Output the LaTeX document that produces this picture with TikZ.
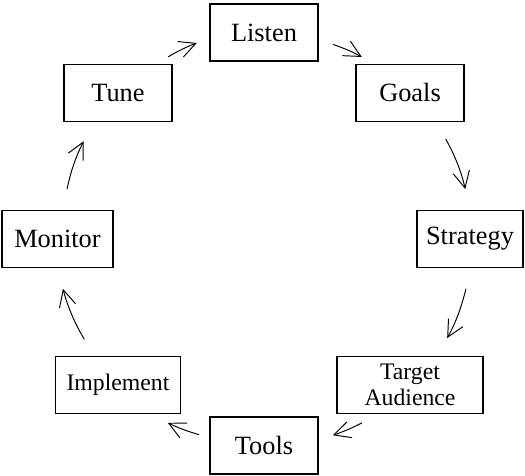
\documentclass[tikz,border=0pt]{standalone}
\usepackage{fontspec}
\setmainfont{Liberation Serif}
\usetikzlibrary{positioning, arrows.meta}

\begin{document}
\begin{tikzpicture}[
    stage/.style={draw, line width=1.1pt, minimum width=2.16cm, minimum height=1.14cm,
      inner sep=1pt, font=\fontsize{15}{18}\selectfont},
    smallstage/.style={stage, align=center, font=\fontsize{13.5}{14.6}\selectfont},
    flow/.style={-{Straight Barb[length=3.3mm,width=3.3mm]}, line width=0.55pt},
  ]

        \useasboundingbox (-5.28,-4.74) rectangle (5.22,4.78);

        % Stages around the loop
        \node[stage] (listen) at (90:4.13) {Listen};
        \node[stage] (goals) at (45:4.13) {Goals};
        \node[stage, minimum width=2.12cm] (strategy) at (0:4.12) {Strategy};
        \node[smallstage, minimum width=2.92cm] (target) at (-45:4.13) {Target\\Audience};
        \node[stage] (tools) at (-90:4.13) {Tools};
        \node[smallstage, minimum width=2.5cm] (implement) at (-135:4.13) {Implement};
        \node[stage, minimum width=2.22cm] (monitor) at (180:4.13) {Monitor};
        \node[stage] (tune) at (135:4.13) {Tune};

        % Arrows (clockwise), short arcs between the boxes
        \draw[flow, shorten <=3mm, shorten >=2.7mm]
            (listen.-7) to[out=-20, in=151, out distance=5.3mm, in distance=5mm] (goals.141);
        \draw[flow, shorten <=3.8mm, shorten >=4.2mm]
            (goals.-48) to[out=-61, in=103, out distance=7.5mm, in distance=7.9mm] (strategy.90);
        \draw[flow, shorten <=4.2mm, shorten >=4mm]
            (strategy.-88) to[out=-104, in=61, out distance=7.9mm, in distance=7.7mm] (target.47);
        \draw[flow, shorten <=3.7mm, shorten >=2.9mm]
            (target.-137) to[out=-153, in=18, out distance=5.9mm, in distance=5.1mm] (tools.6);
        \draw[flow, shorten <=2.1mm, shorten >=3.8mm]
            (tools.172) to[out=163, in=-26, out distance=4.5mm, in distance=6.2mm] (implement.-42);
        \draw[flow, shorten <=3.8mm, shorten >=4.2mm]
            (implement.129) to[out=121, in=-75, out distance=7.6mm, in distance=8mm] (monitor.-90);
        \draw[flow, shorten <=4.2mm, shorten >=4.2mm]
            (monitor.80) to[out=78, in=-117, out distance=7.8mm, in distance=7.8mm] (tune.-130);
        \draw[flow, shorten <=2.6mm, shorten >=2.6mm]
            (tune.37) to[out=31, in=201, out distance=4.9mm, in distance=4.9mm] (listen.186);

\end{tikzpicture}
\end{document}
